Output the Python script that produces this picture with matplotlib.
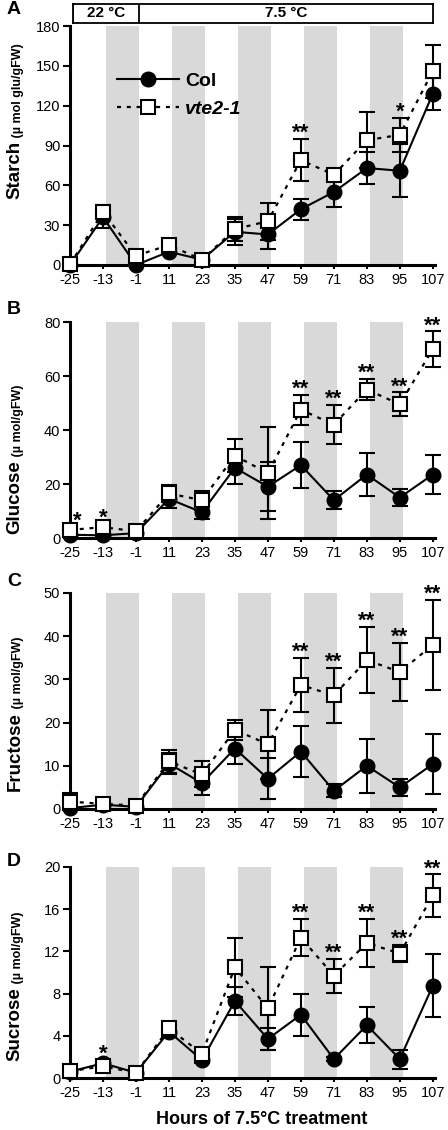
import matplotlib
matplotlib.use('Agg')
import matplotlib.pyplot as plt

plt.rcParams['font.family'] = ['Liberation Sans', 'DejaVu Sans']
plt.rcParams['axes.unicode_minus'] = False

# sampling times (h of 7.5 C treatment)
hours = [-25, -13, -1, 11, 23, 35, 47, 59, 71, 83, 95, 107]
night_starts = [-12, 12, 36, 60, 84]
night_len = 12

starch_col = [0, 36, 0, 10, 4, 25, 23, 42, 55, 73, 71, 129]
starch_col_err = [0, 8, 0, 2, 1, 10, 11, 8, 11, 12, 20, 12]
starch_vte = [0.5, 40, 7, 15, 4, 27, 33, 79, 68, 94, 98, 146]
starch_vte_err = [0, 5, 2, 3, 2, 9, 14, 16, 3, 21, 13, 20]
starch_sig = ['', '', '', '', '', '', '', '**', '', '', '*', '']

glucose_col = [1.2, 1, 1.8, 14.5, 9.5, 26, 19, 27, 14, 23.5, 15, 23.5]
glucose_col_err = [0.5, 0.5, 0.5, 3.5, 2.5, 6, 9, 8.5, 3.4, 8, 3.2, 7.3]
glucose_vte = [3, 4, 2.5, 16.5, 14, 30.5, 24, 47.5, 42, 55, 49.5, 70]
glucose_vte_err = [1, 1.3, 0.5, 3, 3.5, 6, 17, 5.5, 7.2, 3.8, 4.4, 6.5]
glucose_sig = ['*', '*', '', '', '', '', '', '**', '**', '**', '**', '**']

fructose_col = [0.2, 1, 0.5, 10.5, 6, 14, 7, 13.3, 4.2, 10, 5, 10.4]
fructose_col_err = [0.5, 0.3, 0.3, 2.5, 2.8, 3.6, 4.8, 6, 1.5, 6.2, 2, 7]
fructose_vte = [1.7, 1.2, 0.8, 11, 8, 18.3, 15, 28.7, 26.3, 34.5, 31.7, 38]
fructose_vte_err = [2, 0.3, 0.3, 2.7, 3, 2.3, 8, 6.3, 6.3, 7.6, 6.8, 10.4]
fructose_sig = ['', '', '', '', '', '', '', '**', '**', '**', '**', '**']

sucrose_col = [0.6, 1.4, 0.5, 4.4, 1.7, 7.3, 3.7, 6.0, 1.8, 5.0, 1.8, 8.75]
sucrose_col_err = [0.1, 0.3, 0.1, 0.5, 0.3, 1.3, 1.05, 2, 0.2, 1.7, 0.9, 3]
sucrose_vte = [0.65, 1.1, 0.5, 4.7, 2.3, 10.5, 6.6, 13.3, 9.7, 12.8, 11.8, 17.3]
sucrose_vte_err = [0.1, 0.2, 0.1, 0.6, 0.5, 2.8, 3.9, 1.75, 1.6, 2.3, 0.8, 2]
sucrose_sig = ['', '*', '', '', '', '', '', '**', '**', '**', '**', '**']

panels = [
    ('A', 'Starch', '(\u00b5 mol glu/gFW)', 180, 30,
     starch_col, starch_col_err, starch_vte, starch_vte_err, starch_sig),
    ('B', 'Glucose', '(\u00b5 mol/gFW)', 80, 20,
     glucose_col, glucose_col_err, glucose_vte, glucose_vte_err, glucose_sig),
    ('C', 'Fructose', '(\u00b5 mol/gFW)', 50, 10,
     fructose_col, fructose_col_err, fructose_vte, fructose_vte_err, fructose_sig),
    ('D', 'Sucrose', '(\u00b5 mol/gFW)', 20, 4,
     sucrose_col, sucrose_col_err, sucrose_vte, sucrose_vte_err, sucrose_sig),
]

W, H = 448, 1130
fig = plt.figure(figsize=(W / 100, H / 100), dpi=100)

# pixel layout: (axes top, axes bottom, ylabel bottom, letter y)
layout = [(26, 265, 199, 10), (322, 538, 534, 310),
          (593, 809, 791, 581), (867, 1078, 1061, 861)]
left_px, right_px = 70, 435
xmin, xmax = -25, 107.8

for (letter, name, unit, ymax, ystep, col, col_err, vte, vte_err, sig), \
        (top, bot, lab_bot, let_y) in zip(panels, layout):
    ax = fig.add_axes([left_px / W, 1 - bot / H, (right_px - left_px) / W, (bot - top) / H])
    for s in night_starts:
        ax.axvspan(s, s + night_len, color='#d9d9d9', lw=0, zorder=0)

    ax.errorbar(hours, col, yerr=col_err, fmt='none', ecolor='black',
                elinewidth=1.5, capsize=6, capthick=1.5, zorder=2, clip_on=False)
    l1, = ax.plot(hours, col, '-', color='black', lw=1.5, marker='o', ms=10.5,
                  mfc='black', mec='black', zorder=3, clip_on=False)
    ax.errorbar(hours, vte, yerr=vte_err, fmt='none', ecolor='black',
                elinewidth=1.5, capsize=6, capthick=1.5, zorder=4, clip_on=False)
    l2, = ax.plot(hours, vte, color='black', lw=1.6, ls=(0, (1.8, 2.6)), marker='s',
                  ms=10, mfc='white', mec='black', mew=1.5, zorder=5, clip_on=False)

    for x, c, ce, v, ve, s in zip(hours, col, col_err, vte, vte_err, sig):
        if s:
            tx = x + 2.5 if x == hours[0] else x
            ax.annotate(s, (tx, max(c + ce, v + ve)), xytext=(0, 4), textcoords='offset points',
                        ha='center', va='center', fontsize=16, fontweight='bold')

    ax.set_xlim(xmin, xmax)
    ax.set_ylim(0, ymax)
    ax.set_xticks(hours)
    ax.set_yticks(range(0, ymax + 1, ystep))
    ax.tick_params(axis='x', direction='out', length=3, width=1.5, labelsize=10.5, pad=3)
    ax.tick_params(axis='y', direction='out', length=5, width=1.5, labelsize=10.5, pad=2)
    for sp in ['top', 'right']:
        ax.spines[sp].set_visible(False)
    for sp in ['left', 'bottom']:
        ax.spines[sp].set_linewidth(2.2)

    t1 = fig.text(15 / W, 1 - lab_bot / H, name, rotation=90, ha='center', va='bottom',
                  fontsize=13.5, fontweight='bold')
    ax.annotate(' ' + unit, xy=(1, 1), xycoords=t1, rotation=90, ha='right', va='bottom',
                fontsize=9, fontweight='bold')
    fig.text(14 / W, 1 - let_y / H, letter, ha='center', va='center',
             fontsize=14, fontweight='bold')

    if letter == 'A':
        leg = ax.legend([l1, l2], ['Col', 'vte2-1'], loc='upper left',
                        bbox_to_anchor=(0.129, 0.805), frameon=False, borderpad=0,
                        borderaxespad=0, handlelength=3.2, handletextpad=0.3,
                        labelspacing=0.53, prop={'weight': 'bold', 'size': 14})
        leg.get_texts()[1].set_style('italic')

# temperature regime bar
temp_periods = [(-24, 0, '22 \u00b0C'), (0, 107, '7.5 \u00b0C')]
bax = fig.add_axes([72.7 / W, 1 - 22.7 / H, (433 - 72.7) / W, 18.7 / H])
bax.set_xlim(-24, 107)
bax.set_ylim(0, 1)
bax.set_xticks([])
bax.set_yticks([])
for sp in bax.spines.values():
    sp.set_linewidth(1.3)
for a, b, lab in temp_periods:
    bax.axvline(a, color='black', lw=1.3)
    bax.text((a + b) / 2, 0.5, lab, ha='center', va='center', fontsize=11, fontweight='bold')

fig.text(262 / W, 1 - 1120 / H, 'Hours of 7.5\u00b0C treatment', ha='center', va='center',
         fontsize=13, fontweight='bold')

fig.savefig('out.png', dpi=100)
